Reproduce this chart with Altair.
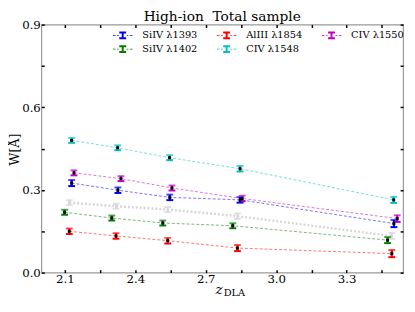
import altair as alt
import pandas as pd

FONT = "'DejaVu Serif', 'Liberation Serif', serif"

# series labels in the reference's legend order (legend fills column by column)
series_names = ["SiIV λ1393", "SiIV λ1402", "AlIII λ1854", "CIV λ1548", "CIV λ1550"]
series_colors = ["#0000ff", "#008000", "#ff0000", "#00bfbf", "#bf00bf"]

z_si1393 = [2.129, 2.326, 2.547, 2.846, 3.501]
w_si1393 = [0.325, 0.299, 0.273, 0.264, 0.178]
e_si1393 = [0.011, 0.010, 0.010, 0.010, 0.013]

z_si1402 = [2.099, 2.300, 2.517, 2.815, 3.474]
w_si1402 = [0.219, 0.198, 0.180, 0.170, 0.118]
e_si1402 = [0.009, 0.009, 0.009, 0.009, 0.011]

z_al1854 = [2.119, 2.318, 2.538, 2.835, 3.492]
w_al1854 = [0.150, 0.133, 0.116, 0.089, 0.069]
e_al1854 = [0.010, 0.010, 0.010, 0.011, 0.013]

z_c1548 = [2.129, 2.325, 2.546, 2.846, 3.500]
w_c1548 = [0.480, 0.453, 0.417, 0.377, 0.264]
e_c1548 = [0.009, 0.009, 0.009, 0.010, 0.011]

z_c1550 = [2.139, 2.339, 2.556, 2.855, 3.515]
w_c1550 = [0.362, 0.341, 0.307, 0.269, 0.196]
e_c1550 = [0.009, 0.009, 0.009, 0.010, 0.012]

# combined (gray, no legend entry)
z_all = [2.119, 2.318, 2.538, 2.835, 3.492]
w_all = [0.254, 0.241, 0.229, 0.205, 0.133]
e_all = [0.009, 0.009, 0.009, 0.010, 0.011]

x_ticks = [2.1, 2.25, 2.4, 2.55, 2.7, 2.85, 3.0, 3.15, 3.3, 3.45]
y_ticks = [0.0, 0.15, 0.3, 0.45, 0.6, 0.75, 0.9]

title_text = "High-ion\u00a0 Total sample"

rows = []
for name, zs, ws, es in zip(series_names,
                            [z_si1393, z_si1402, z_al1854, z_c1548, z_c1550],
                            [w_si1393, w_si1402, w_al1854, w_c1548, w_c1550],
                            [e_si1393, e_si1402, e_al1854, e_c1548, e_c1550]):
    for z, w, e in zip(zs, ws, es):
        rows.append({"series": name, "z": z, "w": w, "lo": w - e, "hi": w + e})
df = pd.DataFrame(rows)
df_all = pd.DataFrame({"z": z_all, "w": w_all,
                       "lo": [w - e for w, e in zip(w_all, e_all)],
                       "hi": [w + e for w, e in zip(w_all, e_all)]})

xs = alt.Scale(domain=[2.0, 3.54], nice=False, zero=False)
ys = alt.Scale(domain=[0.0, 0.9], nice=False, zero=False)
cscale = alt.Scale(domain=series_names, range=series_colors)

# legend glyph: error-bar "I" with thin dashes on both sides (filled path)
legend_path = ("M-0.7,-0.8H0.7V-0.4H0.2V0.4H0.7V0.8H-0.7V0.4H-0.2V-0.4H-0.7Z"
               "M-2,-0.08H-1.45V0.08H-2Z M-1.15,-0.08H-0.8V0.08H-1.15Z"
               "M0.8,-0.08H1.15V0.08H0.8Z M1.45,-0.08H2V0.08H1.45Z")

legend = alt.Legend(
    title=None, orient="none", legendX=78, legendY=6, columns=3,
    columnPadding=19, rowPadding=4,
    symbolType=legend_path, symbolSize=100, symbolOpacity=1,
    symbolStrokeWidth=0,
    labelFont=FONT, labelFontSize=10, labelColor="black", labelOffset=15,
)

TK = dict(tickSize=3, tickColor="black", tickWidth=1.5, domain=False, offset=-3, grid=False)

x_main = alt.X("z:Q", scale=xs, axis=alt.Axis(
    values=x_ticks, title=None, format=".1f",
    labelExpr="(round(datum.value*100)-210) % 30 == 0 ? format(datum.value, '.1f') : ''",
    labelFont=FONT, labelFontSize=12, labelColor="black", labelPadding=1, **TK))
y_main = alt.Y("w:Q", scale=ys, axis=alt.Axis(
    values=y_ticks, title="W[Å]",
    labelExpr="round(datum.value*100) % 30 == 0 ? format(datum.value, '.1f') : ''",
    labelFont=FONT, labelFontSize=12, labelColor="black", labelPadding=1,
    titleFont=FONT, titleFontSize=13, titleFontWeight="normal", titleColor="black",
    titleAngle=-90, titleX=-30, titleY=127, titleAlign="center", titleBaseline="middle",
    **TK))

x_top = alt.X("z:Q", scale=xs, axis=alt.Axis(
    orient="top", values=x_ticks, labels=False, title=None, **TK))
y_right = alt.Y("w:Q", scale=ys, axis=alt.Axis(
    orient="right", values=y_ticks, labels=False, title=None, **TK))

xn = alt.X("z:Q", scale=xs, axis=None)
yn = alt.Y("w:Q", scale=ys, axis=None)

base = alt.Chart(df)

caps_lo = base.mark_tick(orient="horizontal", size=7, thickness=2, opacity=1).encode(
    x=xn, y=alt.Y("lo:Q", scale=ys, axis=None),
    color=alt.Color("series:N", scale=cscale, legend=legend))

lines = base.mark_line(strokeDash=[3, 2], strokeWidth=1, opacity=0.55).encode(
    x=x_main, y=y_main,
    color=alt.Color("series:N", scale=cscale, legend=None),
    detail="series:N")

GRAY = "#d6d6d6"
gray_line = alt.Chart(df_all).mark_line(strokeDash=[2, 2], strokeWidth=2.5, color=GRAY).encode(
    x=x_top, y=y_right)
gray_bar = alt.Chart(df_all).mark_rule(strokeWidth=2.2, color=GRAY).encode(
    x=xn, y=alt.Y("lo:Q", scale=ys, axis=None), y2="hi:Q")
gray_cap_lo = alt.Chart(df_all).mark_tick(orient="horizontal", size=7, thickness=2, color=GRAY).encode(
    x=xn, y=alt.Y("lo:Q", scale=ys, axis=None))
gray_cap_hi = alt.Chart(df_all).mark_tick(orient="horizontal", size=7, thickness=2, color=GRAY).encode(
    x=xn, y=alt.Y("hi:Q", scale=ys, axis=None))

bars = base.mark_rule(strokeWidth=2.2).encode(
    x=xn, y=alt.Y("lo:Q", scale=ys, axis=None), y2="hi:Q",
    color=alt.Color("series:N", scale=cscale, legend=None))
caps_hi = base.mark_tick(orient="horizontal", size=7, thickness=2).encode(
    x=xn, y=alt.Y("hi:Q", scale=ys, axis=None),
    color=alt.Color("series:N", scale=cscale, legend=None))
dots = base.mark_square(size=9, color="black", opacity=1, filled=True).encode(x=xn, y=yn)

lab = pd.DataFrame({"t": ["z"], "s": ["DLA"], "title": [title_text]})
xt1 = alt.Chart(lab).mark_text(font=FONT, fontSize=14, fontStyle="italic", align="right",
                               baseline="alphabetic", color="black").encode(
    x=alt.value(185), y=alt.value(275), text="t:N")
xt2 = alt.Chart(lab).mark_text(font=FONT, fontSize=10, align="left",
                               baseline="alphabetic", color="black").encode(
    x=alt.value(186), y=alt.value(277), text="s:N")
ttl = alt.Chart(lab).mark_text(font=FONT, fontSize=14, align="center",
                               baseline="alphabetic", color="black").encode(
    x=alt.value(184.5), y=alt.value(-3.8), text="title:N")

chart = alt.layer(
    caps_lo, gray_line, lines, gray_bar, gray_cap_lo, gray_cap_hi,
    bars, caps_hi, dots, xt1, xt2, ttl
).resolve_axis(x="independent", y="independent").properties(
    width=369, height=253,
    autosize=alt.AutoSizeParams(type="none"),
    padding={"left": 34, "top": 14, "right": 4, "bottom": 24},
).configure_view(stroke="#999999", strokeWidth=1.2)

chart.save("out.html", embed_options={"renderer": "svg", "actions": False})
